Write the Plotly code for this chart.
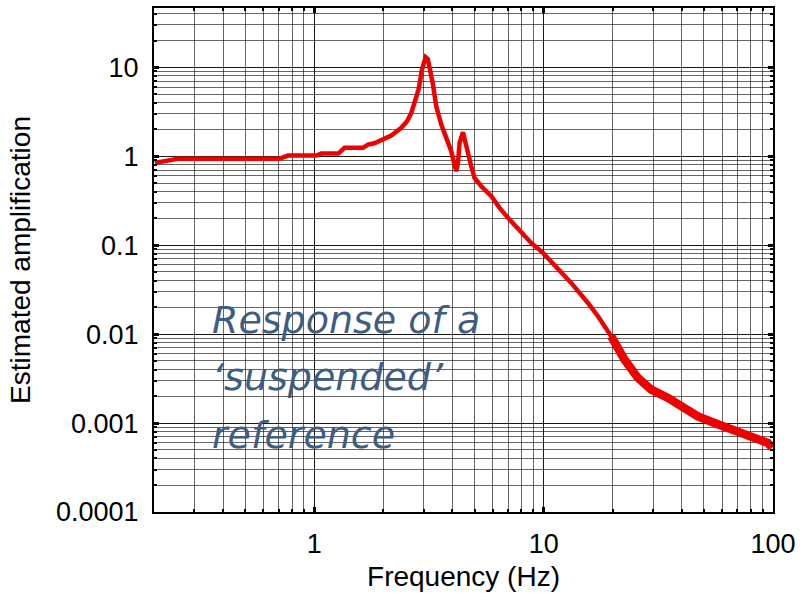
import plotly.graph_objects as go

# Frequency response of a suspended reference (log-log)
freq_hz = [0.2017, 0.2263, 0.2544, 0.7038, 0.740, 0.768, 1.020, 1.073, 1.272, 1.355,
           1.631, 1.714, 1.827, 1.959, 2.166, 2.394, 2.543, 2.648, 2.756, 2.849,
           2.948, 3.057, 3.125, 3.181, 3.292, 3.402, 3.578, 3.762, 3.955, 4.064,
           4.159, 4.231, 4.299, 4.448, 4.552, 4.677, 4.834, 4.997, 5.346, 5.910,
           6.425, 7.101, 8.83, 9.93, 13.19, 15.60, 17.25, 19.71, 22.52, 25.77,
           29.45, 34.83, 39.80, 47.07, 55.59, 65.74, 77.73, 95.02, 99.2]
amplification = [0.843, 0.895, 0.935, 0.935, 0.98, 1.018, 1.018, 1.072, 1.072, 1.243,
                 1.243, 1.354, 1.40, 1.514, 1.709, 2.087, 2.5, 3.08, 4.2, 5.63,
                 9.45, 13.0, 12.4, 10.29, 6.40, 3.65, 2.273, 1.611, 1.138, 0.843,
                 0.678, 0.843, 1.415, 1.862, 1.415, 1.0, 0.772, 0.571, 0.46, 0.355,
                 0.263, 0.194, 0.106, 0.0819, 0.0377, 0.0224, 0.0159, 0.00945, 0.00517, 0.00322,
                 0.00238, 0.00192, 0.00154, 0.00119, 0.00100, 0.000843, 0.000709, 0.000597, 0.00053]

x_ticks = [1, 10, 100]
x_ticktext = ["1", "10", "100"]
y_ticks = [1e-4, 1e-3, 1e-2, 1e-1, 1, 10]
y_ticktext = ["0.0001", "0.001", "0.01", "0.1", "1", "10"]

note_lines = ["Response of a", "\u2018suspended\u2019", "reference"]

W, H = 807, 593
M_L, M_R, M_T, M_B = 154, 34, 8, 81
RED = "#ee0000"
FONT = "Liberation Sans, Arial, Helvetica, sans-serif"


def minor_vals(lo_exp, hi_exp):
    vals = []
    for e in range(lo_exp, hi_exp + 1):
        for k in range(2, 10):
            vals.append(k * 10.0 ** e)
    return vals


fig = go.Figure()
fig.add_trace(go.Scatter(x=freq_hz, y=amplification, mode="lines",
                         line=dict(color=RED, width=4.5), hoverinfo="skip",
                         showlegend=False))
# noisier high-frequency part drawn as a wider band
tail_start = next(i for i, f in enumerate(freq_hz) if f >= 19)
fig.add_trace(go.Scatter(x=freq_hz[tail_start:], y=amplification[tail_start:], mode="lines",
                         line=dict(color=RED, width=8.5), hoverinfo="skip",
                         showlegend=False))

axis_common = dict(
    type="log",
    showline=True, linecolor="black", linewidth=2, mirror="allticks",
    ticks="inside", ticklen=5, tickwidth=3, tickcolor="black",
    showgrid=True, gridcolor="rgba(0,0,0,0.9)", gridwidth=1,
    tickfont=dict(family=FONT, size=27, color="black"),
    zeroline=False,
)

fig.update_xaxes(
    **axis_common,
    range=[-0.699, 2.0],
    tickvals=x_ticks, ticktext=x_ticktext,
    ticklabelstandoff=7,
    minor=dict(tickvals=minor_vals(-1, 1), ticks="inside", ticklen=3, tickwidth=2,
               tickcolor="black", showgrid=True, gridcolor="rgba(0,0,0,0.6)", gridwidth=1),
    title=dict(text="Frequency (Hz)", font=dict(family=FONT, size=28, color="black"),
               standoff=8),
)
fig.update_yaxes(
    **axis_common,
    range=[-4.0, 1.667],
    tickvals=y_ticks, ticktext=y_ticktext,
    ticklabelstandoff=8,
    minor=dict(tickvals=minor_vals(-4, 1), ticks="inside", ticklen=3, tickwidth=2,
               tickcolor="black", showgrid=True, gridcolor="rgba(0,0,0,0.6)", gridwidth=1),
    title=dict(text="Estimated amplification", font=dict(family=FONT, size=28, color="black"),
               standoff=17),
)


def px_to_paper(px, py):
    pw = W - M_L - M_R
    ph = H - M_T - M_B
    return (px - M_L) / pw, 1 - (py - M_T) / ph


note_color = "#3d5e82"
for line, cy in zip(note_lines, [320, 377, 435]):
    ax, ay = px_to_paper(210, cy)
    fig.add_annotation(text="<i>" + line + "</i>", x=ax, y=ay, xref="paper", yref="paper",
                       xanchor="left", yanchor="middle", showarrow=False,
                       font=dict(family="DejaVu Sans, sans-serif", size=38, color=note_color))

fig.update_layout(
    width=W, height=H,
    margin=dict(l=M_L, r=M_R, t=M_T, b=M_B, autoexpand=False),
    paper_bgcolor="white", plot_bgcolor="white",
    showlegend=False,
)

fig.write_html("out.html")
